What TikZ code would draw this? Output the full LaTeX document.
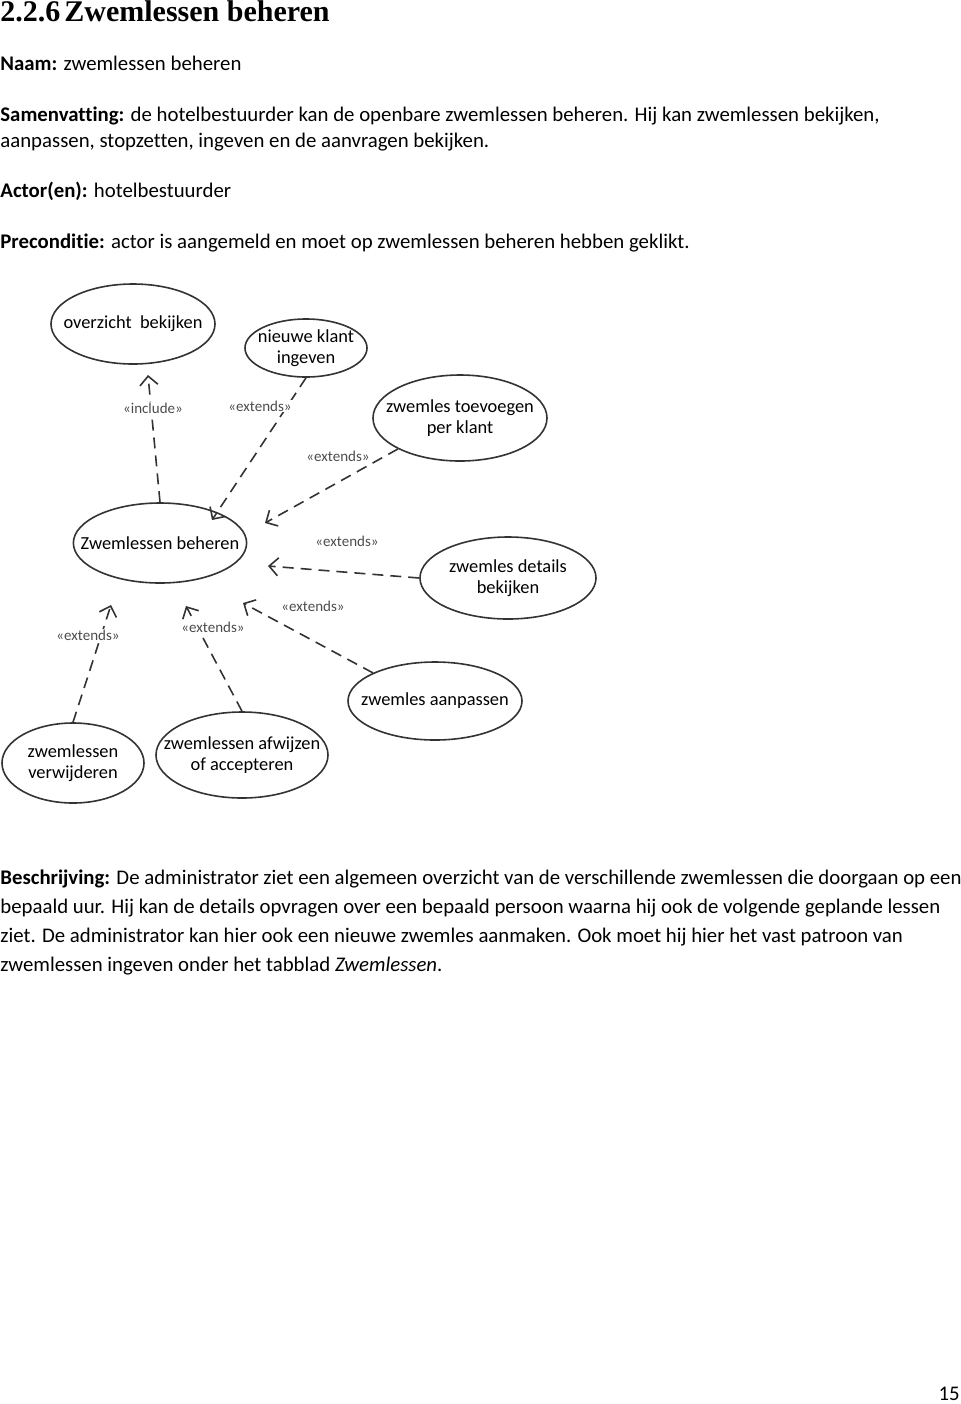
\documentclass[tikz,border=0pt]{standalone}
\usepackage{fontspec}
\setmainfont{Carlito}[Ligatures=NoCommon]
\newfontfamily\headfont{Liberation Serif}
\usetikzlibrary{shapes.geometric,arrows.meta}

\begin{document}
\begin{tikzpicture}[x=0.5pt,y=-0.5pt,
  txt/.style={anchor=base west,inner sep=0pt,font=\fontsize{10.4}{12}\selectfont},
  usecase/.style={draw=black!80,line width=0.8pt,ellipse,inner sep=-9pt,align=center,font=\fontsize{9.2}{10.8}\selectfont},
  rel/.style={draw=black!80,line width=0.8pt,dash pattern=on 5.5pt off 3.5pt,-{Straight Barb[length=4.5pt,width=9pt]}},
  stereo/.style={inner sep=0.5pt,font=\fontsize{7.5}{8}\selectfont,text=black!70}]

\useasboundingbox (0,0) rectangle (960,1404);

\node[anchor=base west,inner sep=0pt,font=\headfont\bfseries\fontsize{15}{18}\selectfont] (title) at (0,21) {2.2.6\hspace{2pt}Zwemlessen beheren};

\node[txt] (naam) at (0,70) {\textbf{Naam:} zwemlessen beheren};
\node[txt] (samen1) at (0,121) {\textbf{Samenvatting:} de hotelbestuurder kan de openbare zwemlessen beheren. Hij kan zwemlessen bekijken,};
\node[txt] (samen2) at (0,147) {aanpassen, stopzetten, ingeven en de aanvragen bekijken.};
\node[txt] (actor) at (0,197) {\textbf{Actor(en):} hotelbestuurder};
\node[txt] (pre) at (0,248) {\textbf{Preconditie:} actor is aangemeld en moet op zwemlessen beheren hebben geklikt.};

\node[usecase,minimum width=82pt,minimum height=40pt] (overzicht) at (133,324) {overzicht \ bekijken};
\node[usecase,minimum width=61pt,minimum height=29pt] (klant) at (306,348) {nieuwe klant\\ingeven};
\node[usecase,minimum width=87pt,minimum height=43pt] (toevoegen) at (460,418) {zwemles toevoegen\\per klant};
\node[usecase,minimum width=82pt,minimum height=40pt] (beheren) at (160,543) {Zwemlessen beheren};
\node[usecase,minimum width=88pt,minimum height=41pt] (details) at (508,578) {zwemles details\\bekijken};
\node[usecase,minimum width=87pt,minimum height=39pt] (aanpassen) at (435,701) {zwemles aanpassen};
\node[usecase,minimum width=71pt,minimum height=40pt] (verwijderen) at (73,763) {zwemlessen\\verwijderen};
\node[usecase,minimum width=86pt,minimum height=43pt] (afwijzen) at (242,755) {zwemlessen afwijzen\\of accepteren};

\coordinate (incl) at (148,375);
\coordinate (ext1) at (212,520);
\coordinate (ext2) at (265,523);
\coordinate (ext3) at (268,566);
\coordinate (ext4) at (243,603);
\coordinate (ext5) at (186,606);
\coordinate (ext6) at (111,605);

\draw[rel] (beheren.north) to (incl);
\draw[rel] (klant.south) to (ext1);
\draw[rel] (toevoegen.south west) to (ext2);
\draw[rel] (details.west) to (ext3);
\draw[rel] (aanpassen.north west) to (ext4);
\draw[rel] (afwijzen.north) to (ext5);
\draw[rel] (verwijderen.north) to (ext6);

\node[stereo,fill=white] (l0) at (153,408) {«include»};
\node[stereo,fill=white] (l1) at (260,406) {«extends»};
\node[stereo] (l2) at (338,456) {«extends»};
\node[stereo] (l3) at (347,541) {«extends»};
\node[stereo] (l4) at (313,606) {«extends»};
\node[stereo,fill=white] (l5) at (213,627) {«extends»};
\node[stereo,fill=white] (l6) at (88,635) {«extends»};

\node[txt] (besch1) at (0,884) {\textbf{Beschrijving:} De administrator ziet een algemeen overzicht van de verschillende zwemlessen die doorgaan op een};
\node[txt] (besch2) at (0,913) {bepaald uur. Hij kan de details opvragen over een bepaald persoon waarna hij ook de volgende geplande lessen};
\node[txt] (besch3) at (0,942) {ziet. De administrator kan hier ook een nieuwe zwemles aanmaken. Ook moet hij hier het vast patroon van};
\node[txt] (besch4) at (0,971) {zwemlessen ingeven onder het tabblad \textit{Zwemlessen}.};

\node[anchor=base east,inner sep=0pt,font=\fontsize{10.4}{12}\selectfont] (page) at (960,1400) {15};

\end{tikzpicture}
\end{document}
